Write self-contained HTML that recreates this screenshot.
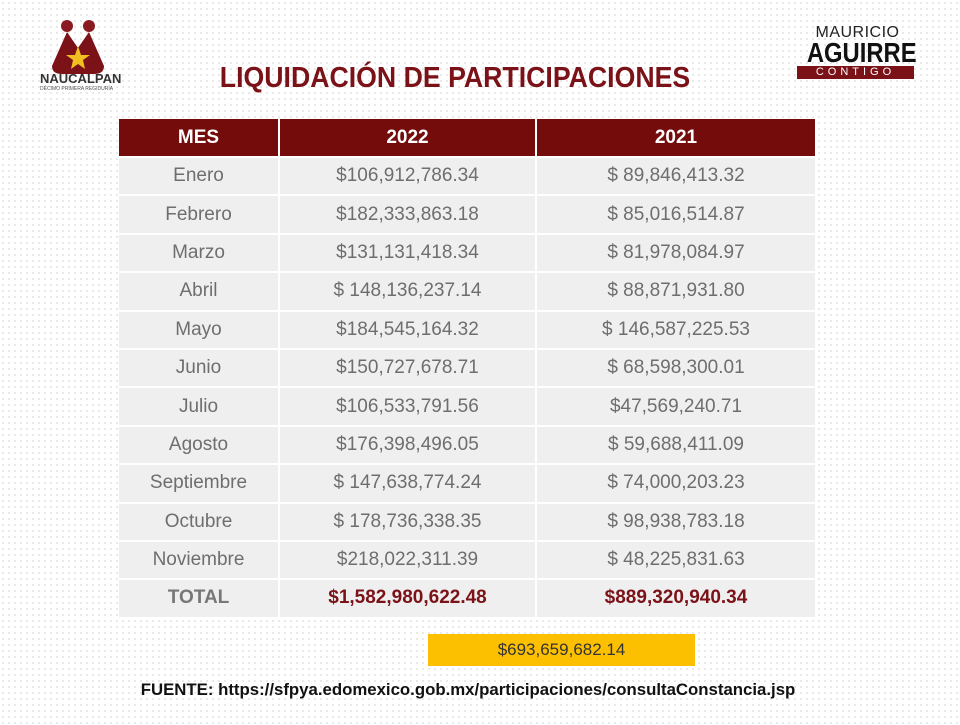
<!DOCTYPE html>
<html><head><meta charset="utf-8"><style>
body{margin:0;width:960px;height:725px;background:#fff;position:relative;overflow:hidden;font-family:"Liberation Sans",sans-serif;
background-image:radial-gradient(#e2e2e2 0.8px,transparent 1px);background-size:6px 6px;}
.a{position:absolute}
.title{left:0;width:910px;top:62px;text-align:center;color:#7a1218;font-weight:bold;font-size:29px;transform:scaleX(0.92);transform-origin:455px 0;}
table{position:absolute;left:119px;top:119px;border-collapse:collapse;width:696px;}
td,th{padding:0;text-align:center;font-size:19px;color:#6e6e6e;height:36.4px;background:#efefef;border-top:2px solid #fff;border-left:2px solid #fff}
th{background:#740c0c;color:#fff;font-weight:bold;height:37px;border-top:0}
td:first-child,th:first-child{border-left:0}
tr.t td{font-weight:bold;color:#7a1218}
tr.t td:first-child{color:#777}
</style></head><body>
<div class="a" style="left:50px;top:18px;width:56px;height:58px;">
<svg width="56" height="58"><circle cx="17" cy="8" r="6" fill="#8a1a22"/><circle cx="39" cy="8" r="6" fill="#8a1a22"/>
<path d="M17 14 L2 48 Q2 56 12 56 L44 56 Q54 56 54 48 L39 14 L28 30 Z" fill="#7a1218"/>
<polygon points="28,28 31,37 40,37 33,42 35,51 28,46 21,51 23,42 16,37 25,37" fill="#f0c020"/></svg></div>
<div class="a" style="left:40px;top:71px;font-size:13px;font-weight:bold;color:#333">NAUCALPAN</div>
<div class="a" style="left:40px;top:86px;font-size:5px;color:#555">DÉCIMO PRIMERA REGIDURÍA</div>
<div class="a" style="left:800px;top:24px;width:115px;text-align:center;font-size:16px;color:#222;letter-spacing:0.5px">MAURICIO</div>
<div class="a" style="left:798px;top:37px;width:118px;text-align:center;font-size:28px;font-weight:bold;color:#111;transform:scaleX(0.85)">AGUIRRE</div>
<div class="a" style="left:797px;top:66px;width:117px;height:13px;background:#7a1218;color:#fff;font-size:11px;text-align:center;line-height:13px;letter-spacing:4px">CONTIGO</div>
<div class="a title">LIQUIDACIÓN DE PARTICIPACIONES</div>
<table>
<tr><th style="width:159px">MES</th><th style="width:255px">2022</th><th>2021</th></tr>
<tr><td>Enero</td><td>$106,912,786.34</td><td>$ 89,846,413.32</td></tr>
<tr><td>Febrero</td><td>$182,333,863.18</td><td>$ 85,016,514.87</td></tr>
<tr><td>Marzo</td><td>$131,131,418.34</td><td>$ 81,978,084.97</td></tr>
<tr><td>Abril</td><td>$ 148,136,237.14</td><td>$ 88,871,931.80</td></tr>
<tr><td>Mayo</td><td>$184,545,164.32</td><td>$ 146,587,225.53</td></tr>
<tr><td>Junio</td><td>$150,727,678.71</td><td>$ 68,598,300.01</td></tr>
<tr><td>Julio</td><td>$106,533,791.56</td><td>$47,569,240.71</td></tr>
<tr><td>Agosto</td><td>$176,398,496.05</td><td>$ 59,688,411.09</td></tr>
<tr><td>Septiembre</td><td>$ 147,638,774.24</td><td>$ 74,000,203.23</td></tr>
<tr><td>Octubre</td><td>$ 178,736,338.35</td><td>$ 98,938,783.18</td></tr>
<tr><td>Noviembre</td><td>$218,022,311.39</td><td>$ 48,225,831.63</td></tr>
<tr class="t"><td>TOTAL</td><td>$1,582,980,622.48</td><td>$889,320,940.34</td></tr>
</table>
<div class="a" style="left:428px;top:634px;width:267px;height:32px;background:#fcc000;color:#333;font-size:17px;text-align:center;line-height:32px">$693,659,682.14</div>
<div class="a" style="left:0;width:936px;top:680px;text-align:center;font-size:16.8px;font-weight:bold;color:#111">FUENTE: https://sfpya.edomexico.gob.mx/participaciones/consultaConstancia.jsp</div>
</body></html>
